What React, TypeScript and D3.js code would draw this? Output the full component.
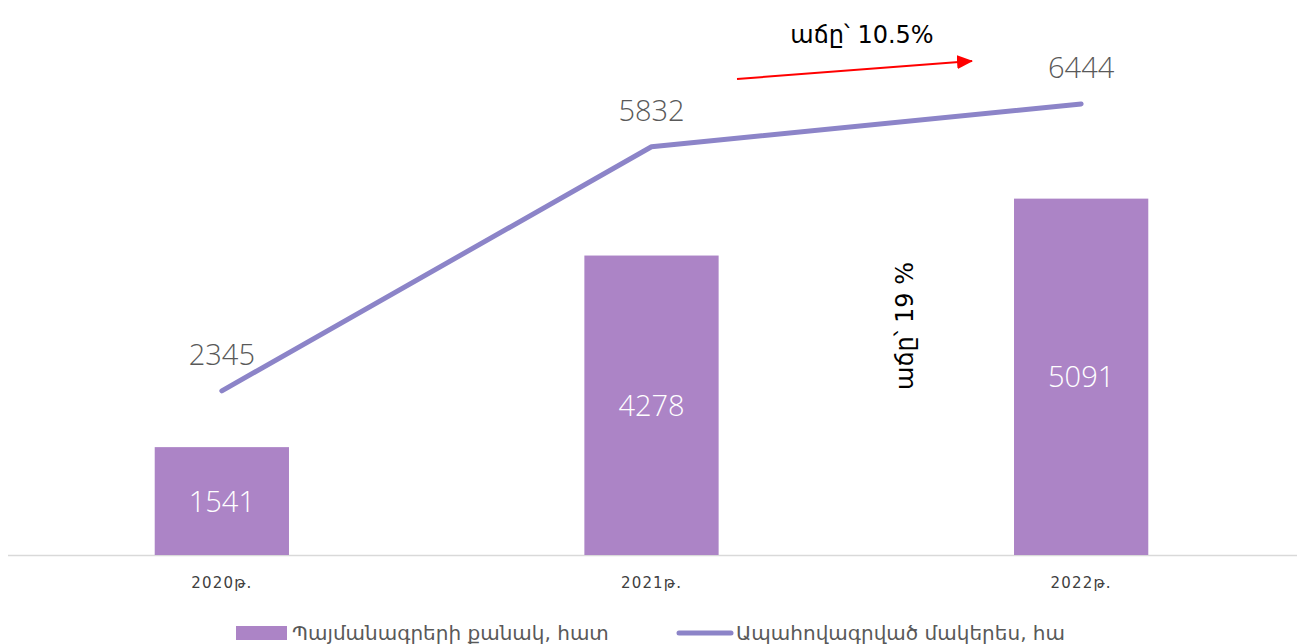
import React, { useRef, useEffect } from 'react';
import * as d3 from 'd3';

const years = ['2020թ.', '2021թ.', '2022թ.'];
const contracts = [1541, 4278, 5091];
const area = [2345, 5832, 6444];
const seriesNames = ['Պայմանագրերի քանակ, հատ', 'Ապահովագրված մակերես, հա'];
const growthTop = 'աճը՝ 10.5%';
const growthSide = 'աճը՝ 19 %';

const BAR_COLOR = '#ac84c6';
const LINE_COLOR = '#8c84c8';
const LABEL_FONT = '"Open Sans", "Segoe UI", "DejaVu Sans", sans-serif';
const ARM_FONT = '"DejaVu Sans", "Noto Sans", sans-serif';

const App = () => {
  const svgRef = useRef<SVGSVGElement>(null);

  useEffect(() => {
    const width = 1297;
    const height = 644;
    const margin = { top: 65, right: 0, bottom: 89, left: 8 };

    const svg = d3.select(svgRef.current)
      .attr('width', width)
      .attr('height', height);

    svg.selectAll('*').remove();

    svg.append('rect').attr('width', width).attr('height', height).attr('fill', '#fff');

    const x = d3.scaleBand()
      .domain(years)
      .range([margin.left - 1, width - margin.right - 1])
      .paddingInner(0.6875)
      .paddingOuter(0.3438);

    const y = d3.scaleLinear()
      .domain([0, 7000])
      .range([height - margin.bottom, margin.top]);

    const cx = (d: string) => (x(d) as number) + x.bandwidth() / 2;

    // baseline
    svg.append('line')
      .attr('x1', margin.left)
      .attr('x2', width)
      .attr('y1', y(0) + 0.5)
      .attr('y2', y(0) + 0.5)
      .attr('stroke', '#d9d9d9')
      .attr('stroke-width', 1.5);

    // bars
    svg.selectAll('.bar')
      .data(contracts)
      .enter()
      .append('rect')
      .attr('x', (d, i) => x(years[i]) as number)
      .attr('y', d => y(d))
      .attr('width', x.bandwidth())
      .attr('height', d => y(0) - y(d))
      .attr('fill', BAR_COLOR);

    svg.selectAll('.bar-label')
      .data(contracts)
      .enter()
      .append('text')
      .attr('x', (d, i) => cx(years[i]))
      .attr('y', d => (y(d) + y(0)) / 2)
      .attr('dy', '0.36em')
      .attr('text-anchor', 'middle')
      .attr('fill', '#fff')
      .style('font-family', LABEL_FONT)
      .style('font-weight', 300)
      .style('font-size', '29px')
      .text(d => d);

    // line
    const line = d3.line<number>()
      .x((d, i) => cx(years[i]))
      .y(d => y(d));

    svg.append('path')
      .datum(area)
      .attr('d', line)
      .attr('fill', 'none')
      .attr('stroke', LINE_COLOR)
      .attr('stroke-width', 5)
      .attr('stroke-linecap', 'round')
      .attr('stroke-linejoin', 'round');

    svg.selectAll('.line-label')
      .data(area)
      .enter()
      .append('text')
      .attr('x', (d, i) => cx(years[i]))
      .attr('y', d => y(d) - 36)
      .attr('dy', '0.36em')
      .attr('text-anchor', 'middle')
      .attr('fill', '#595959')
      .style('font-family', LABEL_FONT)
      .style('font-weight', 300)
      .style('font-size', '29px')
      .text(d => d);

    // x axis labels
    svg.selectAll('.x-label')
      .data(years)
      .enter()
      .append('text')
      .attr('x', d => cx(d))
      .attr('y', y(0) + 33)
      .attr('text-anchor', 'middle')
      .attr('fill', '#404040')
      .style('font-family', ARM_FONT)
      .style('font-size', '15px')
      .style('letter-spacing', '1.2px')
      .text(d => d);

    // growth annotations
    svg.append('defs').append('marker')
      .attr('id', 'arrow')
      .attr('viewBox', '0 0 16 14')
      .attr('refX', 15)
      .attr('refY', 7)
      .attr('markerWidth', 16)
      .attr('markerHeight', 14)
      .attr('markerUnits', 'userSpaceOnUse')
      .attr('orient', 'auto')
      .append('path')
      .attr('d', 'M0,0 L16,7 L0,14 Z')
      .attr('fill', '#ff0000');

    svg.append('line')
      .attr('x1', 737)
      .attr('y1', 79)
      .attr('x2', 972)
      .attr('y2', 61)
      .attr('stroke', '#ff0000')
      .attr('stroke-width', 2)
      .attr('marker-end', 'url(#arrow)');

    svg.append('text')
      .attr('x', 862)
      .attr('y', 43)
      .attr('text-anchor', 'middle')
      .attr('fill', '#000')
      .style('font-family', ARM_FONT)
      .style('font-size', '24px')
      .text(growthTop);

    svg.append('text')
      .attr('transform', 'translate(913,326) rotate(-90)')
      .attr('text-anchor', 'middle')
      .attr('fill', '#000')
      .style('font-family', ARM_FONT)
      .style('font-size', '24px')
      .text(growthSide);

    // legend
    const legend = svg.append('g').attr('transform', `translate(0,${height - 11})`);

    legend.append('rect')
      .attr('x', 236)
      .attr('y', -7)
      .attr('width', 51)
      .attr('height', 14)
      .attr('fill', BAR_COLOR);

    legend.append('text')
      .attr('x', 292)
      .attr('y', 0)
      .attr('dy', '0.36em')
      .attr('fill', '#595959')
      .style('font-family', ARM_FONT)
      .style('font-size', '20px')
      .text(seriesNames[0]);

    legend.append('line')
      .attr('x1', 679)
      .attr('x2', 731)
      .attr('y1', 0)
      .attr('y2', 0)
      .attr('stroke', LINE_COLOR)
      .attr('stroke-width', 5)
      .attr('stroke-linecap', 'round');

    legend.append('text')
      .attr('x', 736)
      .attr('y', 0)
      .attr('dy', '0.36em')
      .attr('fill', '#595959')
      .style('font-family', ARM_FONT)
      .style('font-size', '20px')
      .text(seriesNames[1]);
  }, []);

  return <svg ref={svgRef} style={{ position: 'absolute', left: 0, top: 0, display: 'block' }}></svg>;
};

export default App;
